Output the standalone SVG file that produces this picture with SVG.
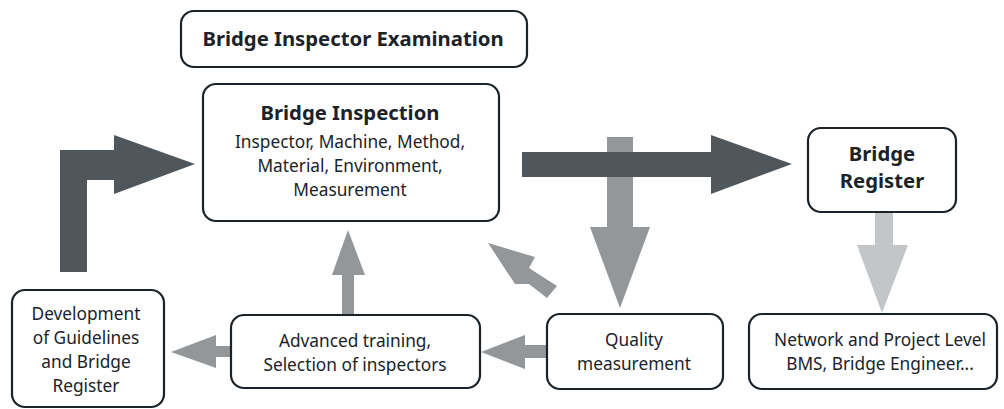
<svg xmlns="http://www.w3.org/2000/svg" width="1004" height="409" viewBox="0 0 1004 409">
<style>
.box{fill:#fff;stroke:#1b2329;stroke-width:2.2}
.t{font-family:"Noto Sans","Liberation Sans",sans-serif;font-size:17.3px;fill:#1b2329;text-anchor:middle}
.b{font-family:"Noto Sans","Liberation Sans",sans-serif;font-size:20.3px;font-weight:bold;fill:#1b2329;text-anchor:middle}
.dark{fill:#4f575c}
.mid{fill:#939799}
.light{fill:#c3c6c8}
</style>
<rect width="1004" height="409" fill="#fff"/>
<g id="connectors">
<path class="dark" d="M60,272 L60,150 L114,150 L114,135 L195,164 L114,194 L114,180 L87,180 L87,272 Z"/>
<path class="mid" d="M607,137 L633,137 L633,227 L650,227 L620,308 L590,227 L607,227 Z"/>
<path class="dark" d="M522,152 L711,152 L711,135 L792,164 L711,194 L711,177 L522,177 Z"/>
<path class="light" d="M875,212 L893,212 L893,245 L908,245 L882,313 L857,245 L875,245 Z"/>
<path class="mid" d="M557,286 L547,298 L529,284 L515,284 L488,243 L535,257 L529,268 Z"/>
<path class="mid" d="M342,315 L354,315 L354,275 L365,275 L348,230 L332,275 L342,275 Z"/>
<path class="mid" d="M231,346 L216,346 L216,335 L171,352 L216,368 L216,357 L231,357 Z"/>
<path class="mid" d="M547,345 L525,345 L525,335 L481,352 L525,369 L525,358 L547,358 Z"/>
</g>
<g id="exam">
<rect class="box" x="181" y="11" width="346" height="56" rx="13"/>
<text class="b" x="353" y="46">Bridge Inspector Examination</text>
</g>
<g id="inspection">
<rect class="box" x="203" y="84" width="296" height="137" rx="13"/>
<text class="b" x="350" y="120">Bridge Inspection</text>
<text class="t" x="350" y="148">Inspector, Machine, Method,</text>
<text class="t" x="350" y="172">Material, Environment,</text>
<text class="t" x="350" y="196">Measurement</text>
</g>
<g id="register">
<rect class="box" x="808" y="128" width="148" height="84" rx="13"/>
<text class="b" x="882" y="161">Bridge</text>
<text class="b" x="882" y="188">Register</text>
</g>
<g id="development">
<rect class="box" x="12" y="290" width="152" height="117" rx="13"/>
<text class="t" x="86" y="320">Development</text>
<text class="t" x="86" y="344">of Guidelines</text>
<text class="t" x="86" y="368">and Bridge</text>
<text class="t" x="86" y="392">Register</text>
</g>
<g id="training">
<rect class="box" x="231" y="315" width="249" height="73" rx="13"/>
<text class="t" x="355" y="347">Advanced training,</text>
<text class="t" x="355" y="371">Selection of inspectors</text>
</g>
<g id="quality">
<rect class="box" x="547" y="314" width="176" height="75" rx="13"/>
<text class="t" x="634" y="346">Quality</text>
<text class="t" x="634" y="370">measurement</text>
</g>
<g id="network">
<rect class="box" x="749" y="314" width="248" height="75" rx="13"/>
<text class="t" x="880" y="346">Network and Project Level</text>
<text class="t" x="880" y="370">BMS, Bridge Engineer...</text>
</g>
</svg>
